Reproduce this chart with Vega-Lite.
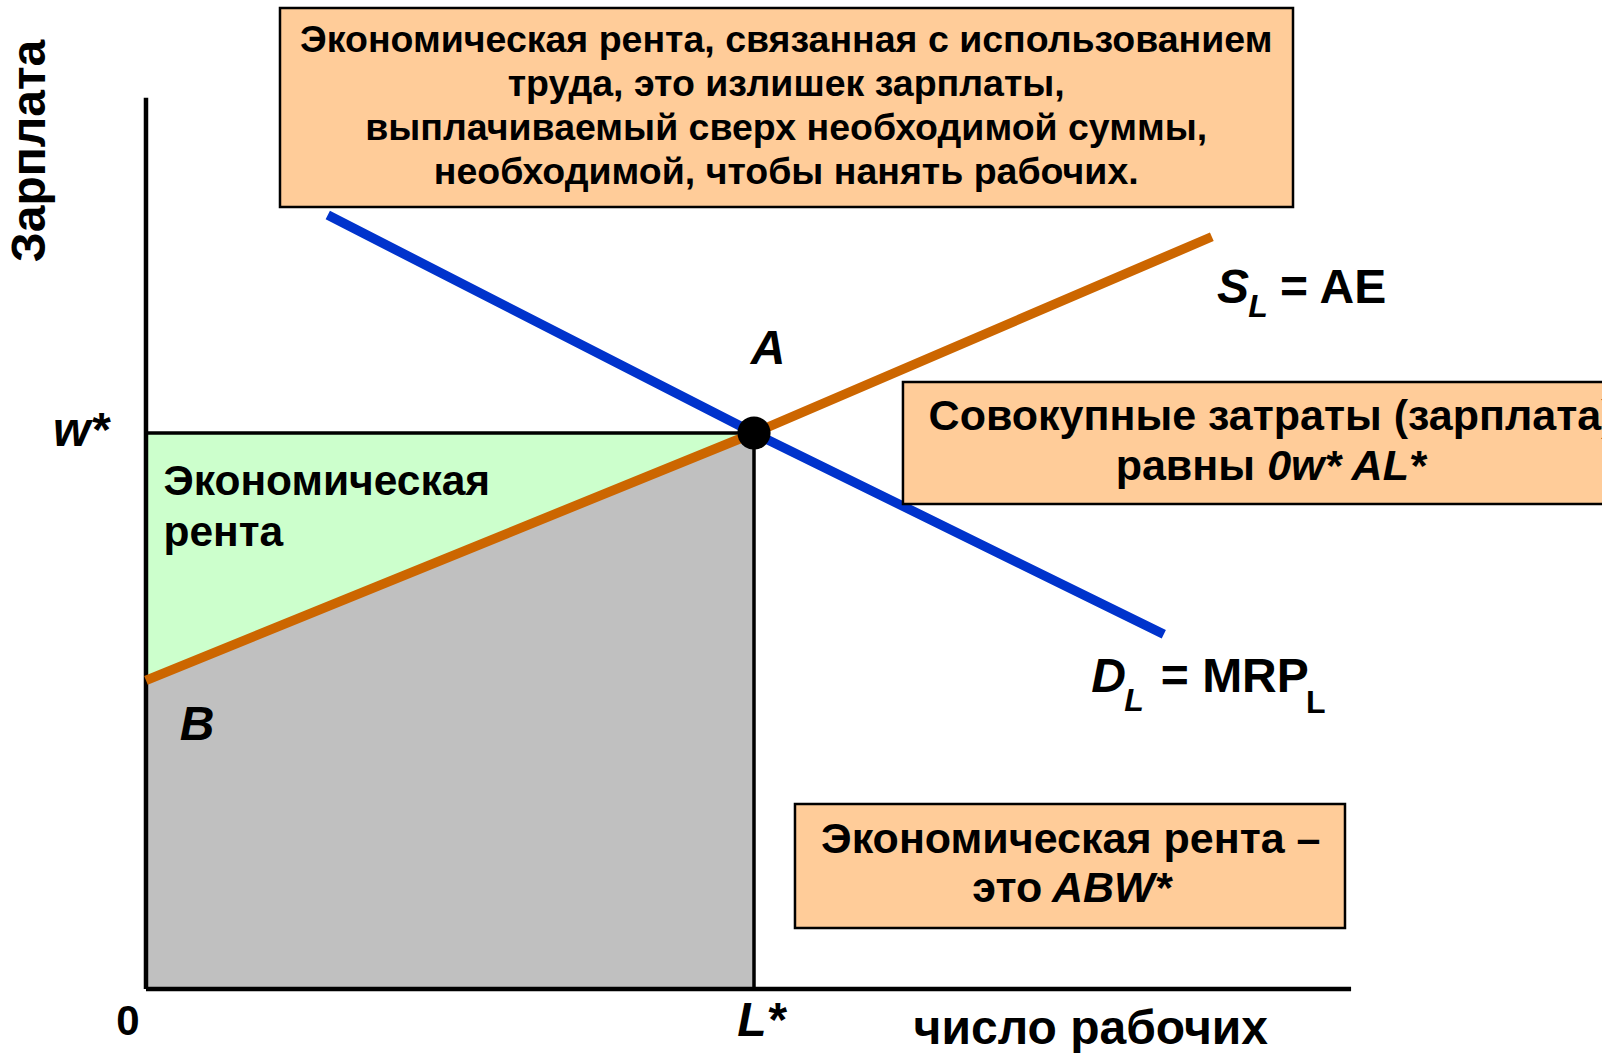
{
  "$schema": "https://vega.github.io/schema/vega-lite/v6.json",
  "width": 1602,
  "height": 1053,
  "padding": 0,
  "autosize": "none",
  "background": "white",
  "config": {"view": {"stroke": null}, "text": {"font": "Liberation Sans", "fontWeight": "bold", "color": "black", "baseline": "middle"}},
  "datasets": {
    "shade": [{"x": 0, "s": 55.5, "w": 100, "z": 0}, {"x": 100, "s": 100, "w": 100, "z": 0}],
    "axisLines": [{"x": 0, "y": 0, "x2": 0, "y2": 160.3}, {"x": 0, "y": 0, "x2": 198.2, "y2": 0}],
    "guides": [{"x": 0, "y": 100, "x2": 100, "y2": 100}, {"x": 100, "y": 0, "x2": 100, "y2": 100}],
    "supply": [{"x": 0, "y": 55.5}, {"x": 100, "y": 100}, {"x": 175.3, "y": 135.3}],
    "demand": [{"x": 29.9, "y": 139.2}, {"x": 100, "y": 100}, {"x": 167.4, "y": 63.8}],
    "eq": [{"x": 100, "y": 100}],
    "boxes": [
      {"x": 22.04, "x2": 188.65, "y": 176.44, "y2": 140.65},
      {"x": 124.5, "x2": 245, "y": 109.17, "y2": 87.23},
      {"x": 106.74, "x2": 197.2, "y": 33.27, "y2": 10.97}
    ],
    "topText": [
      {"x": 105.3, "y": 170.5, "t": "Экономическая рента, связанная с использованием"},
      {"x": 105.3, "y": 162.6, "t": "труда, это излишек зарплаты,"},
      {"x": 105.3, "y": 154.7, "t": "выплачиваемый сверх необходимой суммы,"},
      {"x": 105.3, "y": 146.8, "t": "необходимой, чтобы нанять рабочих."}
    ],
    "boxCenter": [
      {"x": 185.2, "y": 102.9, "t": "Совокупные затраты (зарплата)"},
      {"x": 152.1, "y": 26.8, "t": "Экономическая рента –"}
    ],
    "boxRight": [
      {"x": 182.4, "y": 93.9, "t": "равны"},
      {"x": 147.4, "y": 18.0, "t": "это"}
    ],
    "boxItalic": [
      {"x": 184.4, "y": 93.9, "t": "0w* AL*"},
      {"x": 149.0, "y": 18.0, "t": "ABW*"}
    ],
    "greenText": [
      {"x": 2.88, "y": 91.2, "t": "Экономическая"},
      {"x": 2.88, "y": 82.0, "t": "рента"}
    ],
    "points": [
      {"x": 102.3, "y": 114.9, "t": "A"},
      {"x": 8.4, "y": 47.3, "t": "B"},
      {"x": -10.7, "y": 100.2, "t": "w*"},
      {"x": 101.2, "y": -5.9, "t": "L*"}
    ],
    "curveNames": [
      {"x": 178.8, "y": 125.9, "t": "S"},
      {"x": 158.3, "y": 56.0, "t": "D"}
    ],
    "subItalic": [
      {"x": 182.9, "y": 122.7, "t": "L"},
      {"x": 162.5, "y": 51.8, "t": "L"}
    ],
    "curveEq": [
      {"x": 186.5, "y": 125.9, "t": "= AE"},
      {"x": 166.9, "y": 56.0, "t": "= MRP"}
    ],
    "subUpright": [{"x": 192.4, "y": 51.4, "t": "L"}],
    "origin": [{"x": -2.96, "y": -5.9, "t": "0"}],
    "xTitle": [{"x": 155.4, "y": -7.4, "t": "число рабочих"}],
    "yTitle": [{"x": -18.9, "y": 150.7, "t": "Зарплата"}]
  },
  "encoding": {
    "x": {"field": "x", "type": "quantitative", "scale": {"domain": [-24.01, 239.47], "nice": false, "zero": false}, "axis": null},
    "y": {"field": "y", "type": "quantitative", "scale": {"domain": [-11.51, 177.88], "nice": false, "zero": false}, "axis": null}
  },
  "layer": [
    {"data": {"name": "shade"}, "mark": {"type": "area", "color": "#C0C0C0"},
     "encoding": {"y": {"field": "s", "type": "quantitative"}, "y2": {"field": "z"}}},
    {"data": {"name": "shade"}, "mark": {"type": "area", "color": "#CCFFCC"},
     "encoding": {"y": {"field": "w", "type": "quantitative"}, "y2": {"field": "s"}}},
    {"data": {"name": "guides"}, "mark": {"type": "rule", "color": "black", "strokeWidth": 3.5},
     "encoding": {"x2": {"field": "x2"}, "y2": {"field": "y2"}}},
    {"data": {"name": "axisLines"}, "mark": {"type": "rule", "color": "black", "strokeWidth": 4.5},
     "encoding": {"x2": {"field": "x2"}, "y2": {"field": "y2"}}},
    {"data": {"name": "supply"}, "mark": {"type": "line", "color": "#CC6600", "strokeWidth": 9.5}, "encoding": {}},
    {"data": {"name": "demand"}, "mark": {"type": "line", "color": "#0033CC", "strokeWidth": 9.5}, "encoding": {}},
    {"data": {"name": "eq"}, "mark": {"type": "point", "filled": true, "color": "black", "size": 1100, "opacity": 1}},
    {"data": {"name": "boxes"}, "mark": {"type": "rect", "fill": "#FFCC99", "stroke": "black", "strokeWidth": 2.5, "clip": true},
     "encoding": {"x2": {"field": "x2"}, "y2": {"field": "y2"}}},
    {"data": {"name": "topText"}, "mark": {"type": "text", "fontSize": 37.5, "align": "center"}, "encoding": {"text": {"field": "t"}}},
    {"data": {"name": "boxCenter"}, "mark": {"type": "text", "fontSize": 43, "align": "center", "clip": true}, "encoding": {"text": {"field": "t"}}},
    {"data": {"name": "boxRight"}, "mark": {"type": "text", "fontSize": 43, "align": "right"}, "encoding": {"text": {"field": "t"}}},
    {"data": {"name": "boxItalic"}, "mark": {"type": "text", "fontSize": 43, "align": "left", "fontStyle": "italic"}, "encoding": {"text": {"field": "t"}}},
    {"data": {"name": "greenText"}, "mark": {"type": "text", "fontSize": 42.5, "align": "left"}, "encoding": {"text": {"field": "t"}}},
    {"data": {"name": "points"}, "mark": {"type": "text", "fontSize": 48, "align": "center", "fontStyle": "italic"}, "encoding": {"text": {"field": "t"}}},
    {"data": {"name": "curveNames"}, "mark": {"type": "text", "fontSize": 48, "align": "center", "fontStyle": "italic"}, "encoding": {"text": {"field": "t"}}},
    {"data": {"name": "subItalic"}, "mark": {"type": "text", "fontSize": 32, "align": "center", "fontStyle": "italic"}, "encoding": {"text": {"field": "t"}}},
    {"data": {"name": "curveEq"}, "mark": {"type": "text", "fontSize": 48, "align": "left"}, "encoding": {"text": {"field": "t"}}},
    {"data": {"name": "subUpright"}, "mark": {"type": "text", "fontSize": 32, "align": "center"}, "encoding": {"text": {"field": "t"}}},
    {"data": {"name": "origin"}, "mark": {"type": "text", "fontSize": 42, "align": "center"}, "encoding": {"text": {"field": "t"}}},
    {"data": {"name": "xTitle"}, "mark": {"type": "text", "fontSize": 48, "align": "center"}, "encoding": {"text": {"field": "t"}}},
    {"data": {"name": "yTitle"}, "mark": {"type": "text", "fontSize": 48, "align": "center", "angle": 270}, "encoding": {"text": {"field": "t"}}}
  ]
}
